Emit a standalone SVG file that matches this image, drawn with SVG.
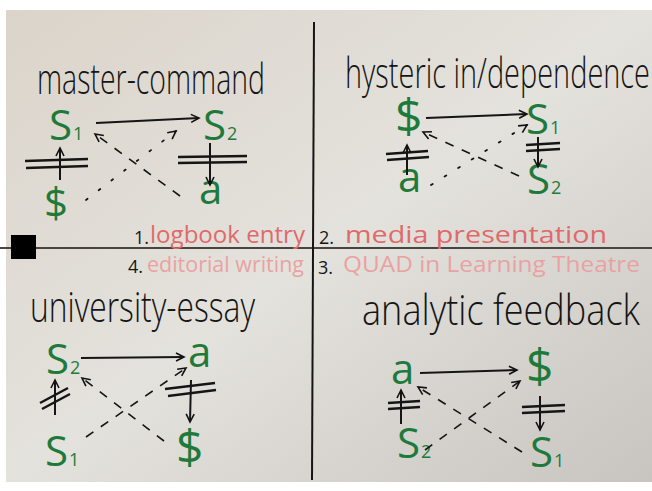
<svg xmlns="http://www.w3.org/2000/svg" width="652" height="491" viewBox="0 0 652 491">
<defs>
<linearGradient id="bg" x1="0" y1="0" x2="1" y2="1">
<stop offset="0" stop-color="#DBD4CA"/>
<stop offset="0.5" stop-color="#E4E2DD"/>
<stop offset="1" stop-color="#C8C5C1"/>
</linearGradient>
<marker id="ah" markerWidth="12" markerHeight="12" refX="9" refY="5" orient="auto" markerUnits="userSpaceOnUse">
<path d="M1,1 L9,5 L1,9" fill="none" stroke="#111" stroke-width="1.6"/>
</marker>
<style>
.title{font-family:"Open Sans","DejaVu Sans",sans-serif;font-size:42px;fill:#151515;font-weight:300}
.g{font-family:"Open Sans","DejaVu Sans",sans-serif;font-size:42px;fill:#1E7A3A}
.d{font-size:48px}
.sub{font-size:18px}
.red{font-family:"Open Sans","DejaVu Sans",sans-serif;font-size:24px;fill:#E06A6A}
.pink{font-family:"Open Sans","DejaVu Sans",sans-serif;font-size:22px;fill:#E9A2A2}
.num{font-family:"Open Sans","DejaVu Sans",sans-serif;font-size:18px;fill:#151515}
.arr{stroke:#151515;stroke-width:2;fill:none;marker-end:url(#ah)}
.dash{stroke:#151515;stroke-width:1.6;fill:none;stroke-dasharray:9 9;marker-end:url(#ah)}
.dot{stroke:#151515;stroke-width:1.8;fill:none;stroke-dasharray:2 14;stroke-linecap:round;marker-end:url(#ah)}
.bar{stroke:#151515;stroke-width:2.4;fill:none}
</style>
</defs>
<rect width="652" height="491" fill="#FFFFFF"/>
<rect x="6" y="10" width="646" height="472" fill="url(#bg)"/>
<g id="grid">
<line x1="0" y1="248" x2="652" y2="248" stroke="#4A4440" stroke-width="2"/>
<line x1="314" y1="22" x2="312" y2="480" stroke="#151515" stroke-width="2"/>
<rect x="11" y="235" width="25" height="24" fill="#000"/>
</g>

<!-- titles -->
<g id="title-master"><text class="title" x="37" y="94" font-size="44" textLength="228" lengthAdjust="spacingAndGlyphs">master-command</text></g>
<g id="title-hysteric"><text class="title" x="345" y="88" font-size="46" textLength="305" lengthAdjust="spacingAndGlyphs">hysteric in/dependence</text></g>
<g id="title-university"><text class="title" x="30" y="322" font-size="44" textLength="225" lengthAdjust="spacingAndGlyphs">university-essay</text></g>
<g id="title-analytic"><text class="title" x="362" y="325" font-size="46" textLength="278" lengthAdjust="spacingAndGlyphs">analytic feedback</text></g>

<!-- captions -->
<g id="cap1"><text class="num" x="134" y="244">1.</text><text class="red" x="150" y="243" textLength="155" lengthAdjust="spacingAndGlyphs">logbook entry</text></g>
<g id="cap2"><text class="num" x="319" y="244">2.</text><text class="red" x="345" y="243" fill="#E27C7C" textLength="262" lengthAdjust="spacingAndGlyphs">media presentation</text></g>
<g id="cap4"><text class="num" x="128" y="273">4.</text><text class="pink" x="147" y="272" textLength="157" lengthAdjust="spacingAndGlyphs">editorial writing</text></g>
<g id="cap3"><text class="num" x="318" y="274">3.</text><text class="pink" x="343" y="272" textLength="297" lengthAdjust="spacingAndGlyphs">QUAD in Learning Theatre</text></g>

<!-- quadrant 1 nodes -->
<g id="q1-S1"><text class="g" x="49" y="140">S<tspan class="sub" dx="1">1</tspan></text></g>
<g id="q1-S2"><text class="g" x="203" y="140">S<tspan class="sub" dx="1">2</tspan></text></g>
<g id="q1-sbar"><text class="g" x="44" y="218" font-size="52">$</text></g>
<g id="q1-a"><text class="g" x="199" y="204" font-size="38">a</text></g>

<!-- quadrant 2 nodes -->
<g id="q2-sbar"><text class="g d" x="395" y="133">$</text></g>
<g id="q2-S1"><text class="g" x="526" y="134">S<tspan class="sub" dx="1">1</tspan></text></g>
<g id="q2-a"><text class="g" x="398" y="192" font-size="38">a</text></g>
<g id="q2-S2"><text class="g" x="527" y="194">S<tspan class="sub" dx="1">2</tspan></text></g>

<!-- quadrant 3 nodes (university) -->
<g id="q3-S2"><text class="g" x="46" y="374">S<tspan class="sub" dx="1">2</tspan></text></g>
<g id="q3-a"><text class="g" x="188" y="367" font-size="38">a</text></g>
<g id="q3-S1"><text class="g" x="45" y="466">S<tspan class="sub" dx="1">1</tspan></text></g>
<g id="q3-sbar"><text class="g d" x="176" y="464">$</text></g>

<!-- quadrant 4 nodes (analytic) -->
<g id="q4-a"><text class="g" x="391" y="384" font-size="38">a</text></g>
<g id="q4-sbar"><text class="g d" x="526" y="383">$</text></g>
<g id="q4-S2"><text class="g" x="397" y="458">S<tspan class="sub" dx="1">2</tspan></text></g>
<g id="q4-S1"><text class="g" x="530" y="467">S<tspan class="sub" dx="1">1</tspan></text></g>

<g id="connectors">
<!-- Q1 -->
<path class="arr" d="M96,123 L199,118"/>
<path class="arr" d="M60,180 L60,148"/>
<line class="bar" x1="25" y1="161" x2="88" y2="159"/>
<line class="bar" x1="26" y1="168" x2="88" y2="166"/>
<path class="arr" d="M210,143 L210,185"/>
<line class="bar" x1="178" y1="157" x2="247" y2="156"/>
<line class="bar" x1="178" y1="163" x2="247" y2="162"/>
<path class="dash" d="M180,196 L95,134"/>
<path class="dot" d="M86,200 L176,131"/>
<!-- Q2 -->
<path class="arr" d="M426,118 L527,114"/>
<path class="arr" d="M407,175 L407,145"/>
<line class="bar" x1="386" y1="154" x2="428" y2="151"/>
<line class="bar" x1="387" y1="160" x2="429" y2="157"/>
<path class="arr" d="M538,137 L538,167"/>
<line class="bar" x1="526" y1="145" x2="560" y2="143"/>
<line class="bar" x1="526" y1="151" x2="560" y2="149"/>
<path class="dash" d="M519,176 L423,132"/>
<path class="dot" d="M431,185 L527,125"/>
<!-- Q3 -->
<path class="arr" d="M81,358 L184,357"/>
<path class="arr" d="M55,415 L55,380"/>
<line class="bar" x1="40" y1="403" x2="68" y2="388"/>
<line class="bar" x1="42" y1="409" x2="70" y2="394"/>
<path class="arr" d="M191,380 L190,422"/>
<line class="bar" x1="165" y1="389" x2="215" y2="383"/>
<line class="bar" x1="168" y1="396" x2="216" y2="390"/>
<path class="dash" d="M164,441 L82,378"/>
<path class="dash" d="M86,437 L186,368"/>
<!-- Q4 -->
<path class="arr" d="M420,373 L517,370"/>
<path class="arr" d="M401,424 L401,390"/>
<line class="bar" x1="388" y1="403" x2="420" y2="401"/>
<line class="bar" x1="388" y1="409" x2="420" y2="407"/>
<path class="arr" d="M540,396 L540,430"/>
<line class="bar" x1="522" y1="407" x2="565" y2="405"/>
<line class="bar" x1="522" y1="413" x2="565" y2="411"/>
<path class="dash" d="M522,452 L418,387"/>
<path class="dash" d="M425,450 L520,381"/>
</g>
</svg>
